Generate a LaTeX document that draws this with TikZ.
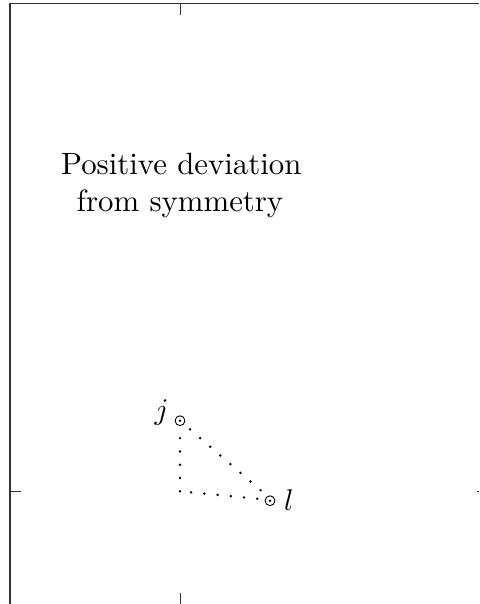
\documentclass[tikz,border=0pt]{standalone}
\usepackage{graphicx}
\begin{document}
\begin{tikzpicture}[x=1pt,y=-1pt,
  frame/.style={line width=1.1pt,draw=black!80},
  dotline/.style={line width=2.7pt,line cap=round,dash pattern=on 0pt off 13.3pt},
  odotmark/.style={circle,draw,line width=0.9pt,minimum size=9.8pt,inner sep=0pt,fill=white},
  bigtext/.style={inner sep=0pt,anchor=base},
  mathlabel/.style={inner sep=0pt}]
\useasboundingbox (0,0) rectangle (479,604);
% frame
\coordinate (tl) at (10,3.3);
\coordinate (tr) at (479,3.3);
\coordinate (bl) at (10,604);
\draw[frame] (tr) -- (tl) -- (bl);
\draw[frame] (180.5,3.3) -- (180.5,15);
\draw[frame] (10,491.7) -- (21,491.7);
\draw[frame] (180.5,593) -- (180.5,604);
\draw[frame] (476.5,491.7) -- (479,491.7);
% text
\node[bigtext] (t1) at (181.3,174.3) {\scalebox{3.08}{Positive deviation}};
\node[bigtext] (t2) at (180,211.7) {\scalebox{3.08}{from symmetry}};
% triangle
\coordinate (jp) at (180,420.7);
\coordinate (lp) at (270,500.7);
\coordinate (cor) at (180,491.3);
\coordinate (cortop) at (180,430);
\coordinate (dend) at (260.7,490.3);
\coordinate (bstart) at (257.3,498.7);
\draw[dotline] (jp) -- (dend);
\draw[dotline] (cor) -- (cortop);
\draw[dotline] (bstart) -- (cor);
\node[odotmark] (jc) at (jp) {};
\node[odotmark] (lc) at (lp) {};
\fill (jc.center) circle (1.4pt);
\fill (lc.center) circle (1.4pt);
\node[mathlabel,anchor=base east] (jl) at (169,419) {\scalebox{3}{$j$}};
\node[mathlabel,anchor=base west] (ll) at (284,510.5) {\scalebox{3}{$l$}};
\end{tikzpicture}
\end{document}
